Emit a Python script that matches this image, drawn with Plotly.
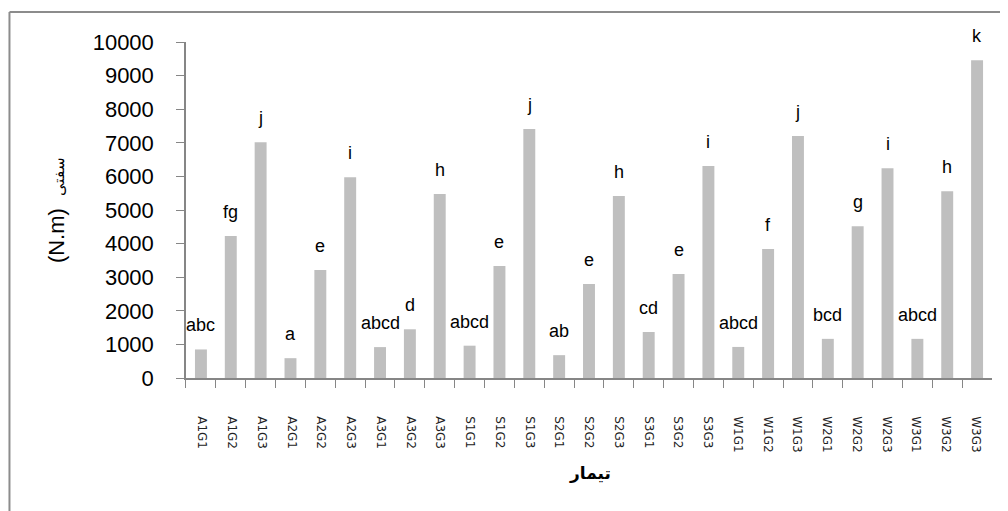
import plotly.graph_objects as go

categories = ["A1G1", "A1G2", "A1G3", "A2G1", "A2G2", "A2G3", "A3G1", "A3G2", "A3G3",
              "S1G1", "S1G2", "S1G3", "S2G1", "S2G2", "S2G3", "S3G1", "S3G2", "S3G3",
              "W1G1", "W1G2", "W1G3", "W2G1", "W2G2", "W2G3", "W3G1", "W3G2", "W3G3"]
values = [850, 4226, 7013, 590, 3214, 5972, 920, 1450, 5476,
          962, 3333, 7411, 680, 2800, 5417, 1370, 3095, 6310,
          925, 3840, 7202, 1165, 4514, 6240, 1165, 5556, 9454]
letters = ["abc", "fg", "j", "a", "e", "i", "abcd", "d", "h",
           "abcd", "e", "j", "ab", "e", "h", "cd", "e", "i",
           "abcd", "f", "j", "bcd", "g", "i", "abcd", "h", "k"]
y_ticks = [0, 1000, 2000, 3000, 4000, 5000, 6000, 7000, 8000, 9000, 10000]
y_tick_text = [str(v) for v in y_ticks]

axis_color = "#868686"
bar_color = "#BFBFBF"
frame_color = "#8C8C8C"

fig = go.Figure()
fig.add_trace(go.Bar(x=categories, y=values, marker=dict(color=bar_color, line=dict(width=0)),
                     hoverinfo="x+y", showlegend=False))
# invisible helper trace for the label axis
fig.add_trace(go.Scatter(x=list(range(len(categories))), y=values, xaxis="x2", mode="markers",
                         marker=dict(opacity=0), hoverinfo="skip", showlegend=False))

for c, v, t in zip(categories, values, letters):
    fig.add_annotation(x=c, y=v, text=t, showarrow=False, yanchor="bottom", yshift=12,
                       font=dict(family="Liberation Sans", size=18, color="#000000"))

fig.add_annotation(x=0.512, y=-0.0137, xref="paper", yref="paper", text="<b>تیمار</b>",
                   showarrow=False, font=dict(family="DejaVu Sans", size=17, color="#000000"))

fig.update_layout(
    width=1008, height=511,
    margin=dict(l=152, r=16, t=34, b=40, autoexpand=False),
    paper_bgcolor="white", plot_bgcolor="white",
    bargap=0.6,
    font=dict(family="Liberation Sans", color="#000000"),
    xaxis=dict(type="category", range=[-0.5, len(categories) - 0.5], domain=[0.03095, 0.99048],
               showline=True, linecolor=axis_color, linewidth=1.5,
               ticks="outside", tickson="boundaries", ticklen=8, tickcolor=axis_color,
               showticklabels=False, showgrid=False, zeroline=False, anchor="y",
               automargin=False),
    xaxis2=dict(overlaying="x", anchor="free", position=0.146, side="bottom", domain=[0, 1],
                range=[-0.548, 26.548], tickmode="array",
                tickvals=list(range(len(categories))), ticktext=categories,
                tickangle=90, ticks="", showline=False, showgrid=False, zeroline=False,
                automargin=False,
                tickfont=dict(family="DejaVu Sans", size=12, color="#222222")),
    yaxis=dict(domain=[0.2311, 1], range=[0, 10000], tickmode="array", tickvals=y_ticks,
               ticktext=y_tick_text,
               showline=True, linecolor=axis_color, linewidth=1.5,
               ticks="outside", ticklen=8, tickcolor=axis_color,
               ticklabelstandoff=18, automargin=False,
               tickfont=dict(family="Liberation Sans", size=22, color="#000000"),
               showgrid=False, zeroline=False,
               title=dict(text="(N.m)  <span style='font-size:15px'>سفتی</span>",
                          font=dict(family="Liberation Sans", size=22, color="#000000"),
                          standoff=22)),
)

fig.add_shape(type="line", xref="paper", yref="paper", x0=-0.1792, x1=1.02, y0=1.0686, y1=1.0686,
              line=dict(color=frame_color, width=2), layer="above")
fig.add_shape(type="line", xref="paper", yref="paper", x0=-0.1792, x1=-0.1792, y0=-0.2, y1=1.0686,
              line=dict(color=frame_color, width=2), layer="above")

fig.write_html("out.html")
